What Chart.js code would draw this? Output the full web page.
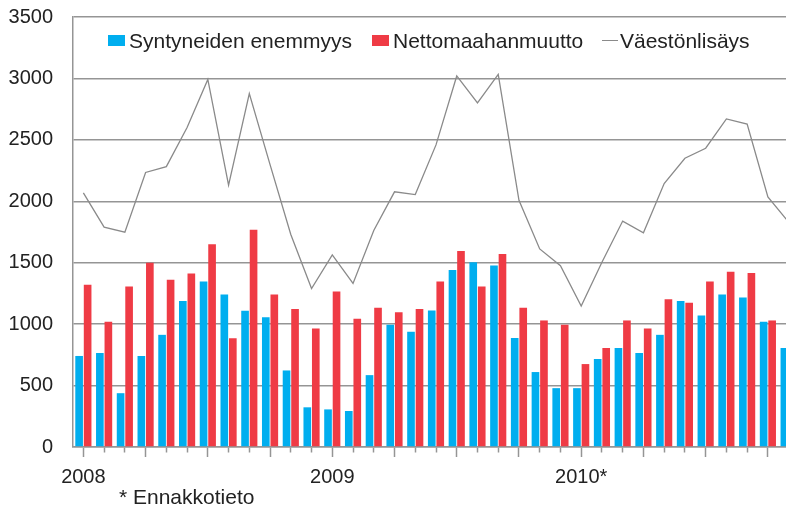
<!DOCTYPE html>
<html>
<head>
<meta charset="utf-8">
<script src="https://cdn.jsdelivr.net/npm/chart.js@4.4.1/dist/chart.umd.min.js"></script>
<style>
  html, body { margin: 0; padding: 0; background: #fff; overflow: hidden; width: 786px; height: 505px; }
  #wrap { position: relative; width: 800px; height: 505px; font-family: "Liberation Sans", Arial, sans-serif; color: #222; }
  #note { position: absolute; left: 119px; top: 485px; font-size: 21px; white-space: nowrap; }
  .item { position: absolute; top: 29px; height: 24px; display: flex; align-items: center; font-size: 21px; white-space: nowrap; }
  .item .box { width: 17px; height: 11px; margin: 0 4px 2px 0; }
  .item .ln { width: 16px; height: 0; border-top: 1.5px solid; margin: 0 2px 2px 0; }
</style>
</head>
<body>
<div id="wrap">
  <canvas id="chart" width="800" height="505"></canvas>
  <div id="legend"></div>
  <div id="note">* Ennakkotieto</div>
</div>
<script>
// monthly data, Jan 2008 - Nov 2010 (the picture is cut off after Nov 2010)
const months = [
  "2008M01", "2008M02", "2008M03", "2008M04", "2008M05", "2008M06",
  "2008M07", "2008M08", "2008M09", "2008M10", "2008M11", "2008M12",
  "2009M01", "2009M02", "2009M03", "2009M04", "2009M05", "2009M06",
  "2009M07", "2009M08", "2009M09", "2009M10", "2009M11", "2009M12",
  "2010M01", "2010M02", "2010M03", "2010M04", "2010M05", "2010M06",
  "2010M07", "2010M08", "2010M09", "2010M10", "2010M11",
];
const yearTicks = ["2008", "2009", "2010*"];

const births = [
  741, 765, 438, 741, 913, 1189, 1347, 1241, 1110, 1057, 623, 323,
  306, 293, 585, 995, 938, 1112, 1440, 1503, 1478, 888, 610, 479,
  479, 716, 806, 765, 913, 1189, 1071, 1241, 1216, 1020, 806,
];
const netMigration = [
  1320, 1020, 1306, 1500, 1361, 1413, 1651, 885, 1768, 1241, 1123, 965,
  1265, 1044, 1134, 1096, 1123, 1347, 1596, 1306, 1571, 1134, 1030, 995,
  675, 806, 1030, 965, 1202, 1175, 1347, 1426, 1416, 1030, 1020,
];
const growth = [
  2069, 1790, 1749, 2235, 2282, 2600, 2992, 2131, 2877, 2298, 1730, 1290,
  1563, 1331, 1762, 2077, 2055, 2459, 3020, 2801, 3033, 2008, 1612, 1475,
  1148, 1503, 1839, 1743, 2145, 2350, 2432, 2670, 2629, 2036, 1830,
];

const FONT = "'Liberation Sans', Arial, sans-serif";
const GRID = "#959595";
const TEXT = "#222";

const chart = new Chart(document.getElementById("chart"), {
  type: "bar",
  data: {
    labels: months,
    datasets: [
      {
        label: "Syntyneiden enemmyys",
        data: births,
        backgroundColor: "#00aeef",
        categoryPercentage: 0.82,
        barPercentage: 0.9,
      },
      {
        label: "Nettomaahanmuutto",
        data: netMigration,
        backgroundColor: "#ef3b45",
        categoryPercentage: 0.82,
        barPercentage: 0.9,
      },
      {
        type: "line",
        label: "Väestönlisäys",
        data: growth,
        borderColor: "#8a8a8a",
        backgroundColor: "#8a8a8a",
        borderWidth: 1.3,
        pointRadius: 0,
        tension: 0,
      },
    ],
  },
  options: {
    responsive: false,
    animation: false,
    layout: { padding: { top: 17, right: 1, left: 0, bottom: 0 } },
    plugins: {
      legend: { display: false },
      tooltip: { enabled: false },
    },
    scales: {
      x: {
        grid: {
          offset: false,
          drawOnChartArea: false,
          tickLength: 10,
          tickColor: GRID,
          tickWidth: 1.5,
          // long tick every quarter, short ones between
          tickBorderDash: (ctx) => (ctx.index % 3 === 0 ? [] : [5, 20]),
        },
        border: { color: GRID, width: 1.5 },
        ticks: {
          autoSkip: false,
          maxRotation: 0,
          padding: 8,
          color: TEXT,
          font: { family: FONT, size: 20 },
          callback: (v, i) => (i % 12 === 0 ? yearTicks[i / 12] : ""),
        },
        afterFit: (scale) => {
          scale.height = 58;
        },
      },
      y: {
        min: 0,
        max: 3500,
        ticks: {
          stepSize: 500,
          padding: 0,
          color: TEXT,
          font: { family: FONT, size: 20 },
          callback: (v) => String(v),
        },
        // invisible tick marks keep the labels 20px off the axis
        grid: { color: GRID, lineWidth: 1.5, tickLength: 20, tickColor: "transparent" },
        border: { color: GRID, width: 1.5 },
        afterFit: (scale) => {
          scale.width = 73;
        },
      },
    },
  },
});

// legend row inside the plot area, built from the datasets
const legendX = [108, 372, 602];
const legendEl = document.getElementById("legend");
chart.data.datasets.forEach((ds, i) => {
  const item = document.createElement("div");
  item.className = "item";
  item.style.left = legendX[i] + "px";
  const mark = document.createElement("span");
  if (ds.type === "line") {
    mark.className = "ln";
    mark.style.borderColor = ds.borderColor;
  } else {
    mark.className = "box";
    mark.style.background = ds.backgroundColor;
  }
  item.appendChild(mark);
  item.appendChild(document.createTextNode(ds.label));
  legendEl.appendChild(item);
});
</script>
</body>
</html>
